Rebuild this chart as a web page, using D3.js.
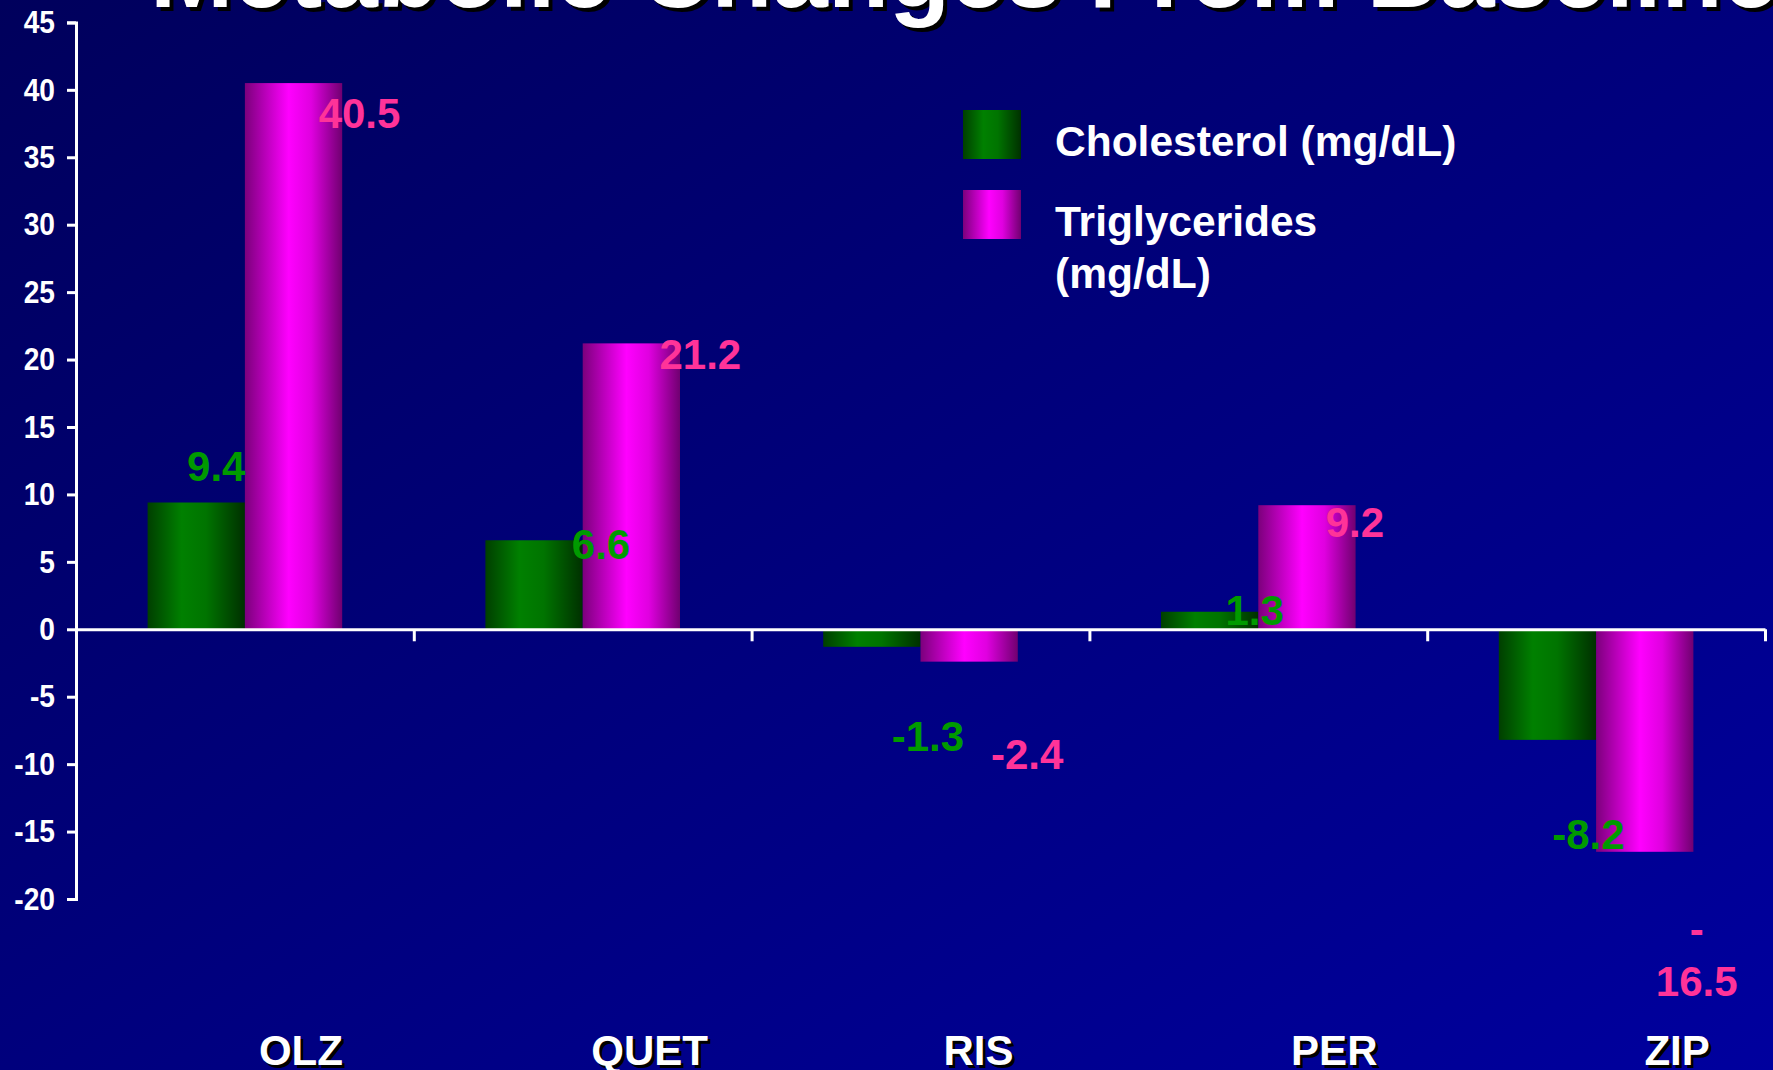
<!DOCTYPE html>
<html>
<head>
<meta charset="utf-8">
<script src="https://cdn.jsdelivr.net/npm/d3@7/dist/d3.min.js"></script>
<style>
  html, body { margin: 0; padding: 0; background: #000070; overflow: hidden; }
  svg { display: block; }
  text { font-family: "Liberation Sans", Arial, Helvetica, sans-serif; font-weight: bold; }
</style>
</head>
<body>
<svg id="chart" width="1773" height="1070"></svg>
<script>
// ---------------- data ----------------
const title = "Metabolic Changes From Baseline";
const categories = ["OLZ", "QUET", "RIS", "PER", "ZIP"];
const seriesNames = ["Cholesterol (mg/dL)", "Triglycerides (mg/dL)"];
const cholesterol = [9.4, 6.6, -1.3, 1.3, -8.2];
const triglycerides = [40.5, 21.2, -2.4, 9.2, -16.5];
const yTicks = [45, 40, 35, 30, 25, 20, 15, 10, 5, 0, -5, -10, -15, -20];

// label nudges (pixels, relative to bar centre / bar end) as placed in the original slide
const cholLabelDx = [20, 67, 56, 45, 41];
const cholLabelDy = [-22, 19, 104, 13, 109];
const trigLabelDx = [66, 69, 58, 48, 52];
const trigLabelDy = [45, 26, 107, 32, 144];
const catLabelDx = [56, 67, 58, 76, 81];

// ---------------- layout ----------------
const W = 1773, H = 1070;
const svg = d3.select("#chart");
const defs = svg.append("defs");

const bg = defs.append("linearGradient").attr("id", "bg")
  .attr("x1", 0).attr("y1", 0).attr("x2", 1).attr("y2", 1);
bg.append("stop").attr("offset", 0).attr("stop-color", "#00005c");
bg.append("stop").attr("offset", 1).attr("stop-color", "#00009e");

const gGreen = defs.append("linearGradient").attr("id", "gGreen")
  .attr("x1", 0).attr("y1", 0).attr("x2", 1).attr("y2", 0);
[[0, "#003f00"], [0.35, "#008000"], [0.6, "#007400"], [1, "#003000"]]
  .forEach(([o, c]) => gGreen.append("stop").attr("offset", o).attr("stop-color", c));

const gMag = defs.append("linearGradient").attr("id", "gMag")
  .attr("x1", 0).attr("y1", 0).attr("x2", 1).attr("y2", 0);
[[0, "#7c007c"], [0.45, "#ff00ff"], [0.68, "#e000e0"], [1, "#700070"]]
  .forEach(([o, c]) => gMag.append("stop").attr("offset", o).attr("stop-color", c));

svg.append("rect").attr("width", W).attr("height", H).attr("fill", "url(#bg)");

const fills = ["url(#gGreen)", "url(#gMag)"];
const labelColors = ["#009a00", "#ff3399"];
const hyphen = s => s.replace(/\u2212/g, "-");

const y = d3.scaleLinear().domain([-20, 45]).range([899, 22.4]);
const x = d3.scaleBand().domain(categories).range([76, 1765]).paddingInner(0).paddingOuter(0);
const xs = d3.scaleBand().domain([0, 1]).range([0, x.bandwidth()]).paddingInner(0).paddingOuter(0.736);

const series = [cholesterol, triglycerides];
const labelDx = [cholLabelDx, trigLabelDx];
const labelDy = [cholLabelDy, trigLabelDy];

// ---------------- bars ----------------
series.forEach((vals, s) => {
  svg.append("g").selectAll("rect").data(vals).join("rect")
    .attr("x", (d, i) => x(categories[i]) + xs(s))
    .attr("width", xs.bandwidth())
    .attr("y", d => y(Math.max(0, d)))
    .attr("height", d => Math.abs(y(d) - y(0)))
    .attr("fill", fills[s]);
});

// ---------------- axes ----------------
const yAxis = svg.append("g").attr("transform", "translate(76,0)")
  .call(d3.axisLeft(y).tickValues(yTicks).tickSize(9).tickSizeOuter(9).tickPadding(12)
    .tickFormat(d => hyphen(d3.format("d")(d))));
yAxis.selectAll("path, line").attr("stroke", "#ffffff").attr("stroke-width", 3);
const sx = 0.88;
yAxis.selectAll(".tick text").attr("fill", "#ffffff").attr("font-size", 32)
  .attr("font-family", "'Liberation Sans', Arial, sans-serif").attr("font-weight", "bold")
  .attr("x", -21 / sx).attr("transform", `scale(${sx},1)`);

const xIdx = d3.scaleLinear().domain([0, categories.length]).range([76, 1765]);
const xAxis = svg.append("g").attr("transform", `translate(0,${y(0)})`)
  .call(d3.axisBottom(xIdx).tickValues(d3.range(1, categories.length + 1)).tickSize(12).tickSizeOuter(0).tickFormat(""));
xAxis.selectAll("path, line").attr("stroke", "#ffffff").attr("stroke-width", 3);

// ---------------- value labels ----------------
series.forEach((vals, s) => {
  const g = svg.append("g");
  vals.forEach((v, i) => {
    const cx = x(categories[i]) + xs(s) + xs.bandwidth() / 2 + labelDx[s][i];
    const base = y(v) + labelDy[s][i];
    const str = hyphen(d3.format(".1f")(v));
    const t = g.append("text")
      .attr("text-anchor", "middle")
      .attr("font-size", 42)
      .attr("fill", labelColors[s]);
    if (str.length > 4) {
      t.append("tspan").attr("x", cx).attr("y", base - 52).text(str.slice(0, 1));
      t.append("tspan").attr("x", cx).attr("y", base).text(str.slice(1));
    } else {
      t.attr("x", cx).attr("y", base).text(str);
    }
  });
});

// ---------------- category labels ----------------
const catX = (d, i) => x(d) + x.bandwidth() / 2 + catLabelDx[i];
const catG = svg.append("g");
catG.selectAll("text.shadow").data(categories).join("text").attr("class", "shadow")
  .attr("x", (d, i) => catX(d, i) + 3).attr("y", 1068)
  .attr("text-anchor", "middle").attr("font-size", 42).attr("fill", "#000000").text(d => d);
catG.selectAll("text.main").data(categories).join("text").attr("class", "main")
  .attr("x", (d, i) => catX(d, i)).attr("y", 1065)
  .attr("text-anchor", "middle").attr("font-size", 42).attr("fill", "#ffffff").text(d => d);

// ---------------- legend ----------------
const legendLines = [[seriesNames[0]], ["Triglycerides", "(mg/dL)"]];
const leg = svg.append("g").attr("transform", "translate(963,110)");
legendLines.forEach((lines, s) => {
  const row = leg.append("g").attr("transform", `translate(0,${s * 80})`);
  row.append("rect").attr("width", 58).attr("height", 49).attr("fill", fills[s]);
  lines.forEach((ln, k) => {
    row.append("text").attr("x", 92).attr("y", 46 + k * 52)
      .attr("font-size", 42.5).attr("fill", "#ffffff").text(ln);
  });
});

// ---------------- title (cut off at the top, as in the original) ----------------
svg.append("text").attr("x", 154).attr("y", 11).attr("font-size", 100)
  .attr("fill", "#000000").text(title);
svg.append("text").attr("x", 150).attr("y", 7).attr("font-size", 100)
  .attr("fill", "#ffffff").text(title);
</script>
</body>
</html>
